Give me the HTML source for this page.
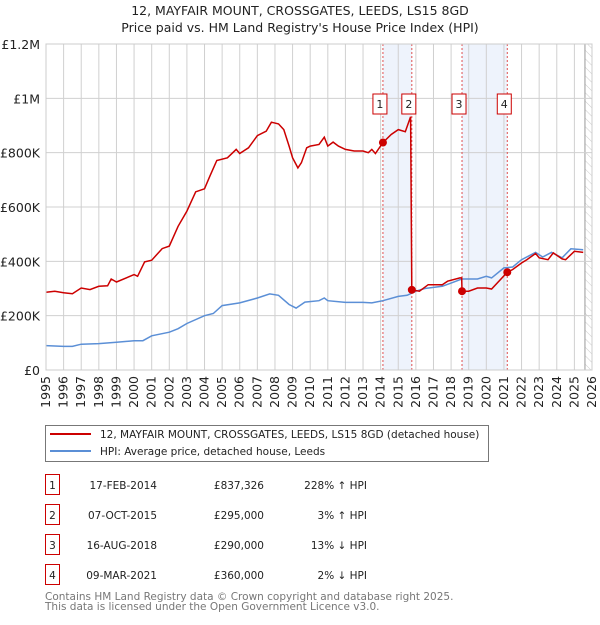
<!DOCTYPE html>
<html><head><meta charset="utf-8"><style>
body{margin:0;background:#fff;font-family:"Liberation Sans","DejaVu Sans",sans-serif;}
svg text{font-family:"DejaVu Sans","Liberation Sans",sans-serif;}
</style></head><body>
<svg id="c" width="600" height="620" xmlns="http://www.w3.org/2000/svg"></svg>
<script>
const years=[1995,1996,1997,1998,1999,2000,2001,2002,2003,2004,2005,2006,2007,2008,2009,2010,2011,2012,2013,2014,2015,2016,2017,2018,2019,2020,2021,2022,2023,2024,2025,2026];
const yTicks=[0,200000,400000,600000,800000,1000000,1200000];
const yTickLabels=["£0","£200K","£400K","£600K","£800K","£1M","£1.2M"];
const saleDates=[2014.13,2015.77,2018.62,2021.19];
const salePrices=[837326,295000,290000,360000];
const propT=[1995,1995.5,1996,1996.5,1997,1997.5,1998,1998.5,1998.7,1999,2000,2000.2,2000.6,2001,2001.6,2002,2002.5,2003,2003.5,2004,2004.3,2004.7,2005.3,2005.8,2006,2006.5,2007,2007.5,2007.8,2008.2,2008.5,2008.8,2009,2009.3,2009.5,2009.8,2010,2010.5,2010.8,2011,2011.3,2011.6,2012,2012.5,2013,2013.3,2013.5,2013.7,2014.13,2014.6,2015,2015.4,2015.7,2015.77,2016.2,2016.7,2017.5,2017.8,2018.5,2018.6,2018.62,2019,2019.5,2020,2020.3,2021.19,2021.5,2022,2022.3,2022.8,2023,2023.5,2023.8,2024.3,2024.5,2025,2025.5];
const propV=[286,290,284,281,302,296,308,310,335,324,351,345,398,404,447,456,529,585,656,667,713,771,781,812,797,818,863,879,912,906,885,824,781,744,763,818,824,830,857,824,839,824,812,806,806,800,812,797,837,867,885,877,932,295,290,314,314,327,339,339,290,290,302,302,298,360,370,394,406,429,413,406,431,409,406,437,433];
const hpiT=[1995,1996,1996.5,1997,1998,1999,2000,2000.5,2001,2002,2002.5,2003,2004,2004.5,2005,2006,2007,2007.7,2008.2,2008.8,2009.2,2009.7,2010.5,2010.8,2011,2012,2013,2013.5,2014.13,2015,2015.5,2016,2016.5,2017.5,2018,2018.6,2019.5,2020,2020.3,2021,2021.5,2022,2022.8,2023.2,2023.7,2024.3,2024.8,2025.5];
const hpiV=[90,87,87,95,97,102,108,108,126,139,152,171,200,208,237,247,265,280,275,241,228,250,255,265,255,249,249,247,255,271,275,290,300,308,320,335,335,345,339,376,379,406,433,416,433,413,446,443];
const NS="http://www.w3.org/2000/svg",svg=document.getElementById('c');
const L=46,R=592,T=44,B=370;
const X=t=>L+(t-1995)*(R-L)/31, Y=v=>B-v*(B-T)/1200000;
function el(tag,a,txt){const e=document.createElementNS(NS,tag);for(const k in a)e.setAttribute(k,a[k]);if(txt!=null)e.textContent=txt;svg.appendChild(e);return e;}
let e;
e=el('text',{x:300,y:15,'text-anchor':'middle','font-size':12.5,fill:'#222'},'12, MAYFAIR MOUNT, CROSSGATES, LEEDS, LS15 8GD');


e=el('text',{x:300,y:32,'text-anchor':'middle','font-size':12.5,fill:'#222'},"Price paid vs. HM Land Registry's House Price Index (HPI)");


[[0,1],[2,3]].forEach((p,i)=>{e=el('rect',{x:X(saleDates[p[0]]),y:T,width:X(saleDates[p[1]])-X(saleDates[p[0]]),height:B-T,fill:'#eef3fc'});

});
const d=el('defs',{});d.innerHTML='<pattern id="h" width="6" height="6" patternUnits="userSpaceOnUse" patternTransform="rotate(-45)"><line x1="0" y1="0" x2="0" y2="6" stroke="#ccc" stroke-width="1"/></pattern>';
e=el('rect',{x:X(2025.6),y:T,width:R-X(2025.6),height:B-T,fill:'url(#h)'});


e=el('line',{x1:X(2025.6),x2:X(2025.6),y1:T,y2:B,stroke:'#999'});


years.forEach(y=>{e=el('line',{x1:X(y),x2:X(y),y1:T,y2:B,stroke:'#d0d0d0','stroke-width':1});


e=el('text',{transform:`translate(${X(y)+4},${B+6}) rotate(-90)`,'text-anchor':'end','font-size':12.5,fill:'#222'},y);

});
yTicks.forEach((v,i)=>{e=el('line',{x1:L,x2:R,y1:Y(v),y2:Y(v),stroke:'#d0d0d0'});


e=el('text',{x:40,y:Y(v)+5,'text-anchor':'end','font-size':12.5,fill:'#222'},yTickLabels[i]);

});
saleDates.forEach(t=>{e=el('line',{x1:X(t),x2:X(t),y1:T,y2:B,stroke:'#e05050','stroke-dasharray':'2,2','stroke-width':1});

});
const pts=(ts,vs)=>ts.map((t,i)=>X(t).toFixed(1)+','+Y(vs[i]*1000).toFixed(1)).join(' ');
e=el('polyline',{points:pts(hpiT,hpiV),fill:'none',stroke:'#5b8fd6','stroke-width':1.5});


e=el('polyline',{points:pts(propT,propV),fill:'none',stroke:'#cc0000','stroke-width':1.5});


saleDates.forEach((t,i)=>{e=el('circle',{cx:X(t),cy:Y(salePrices[i]),r:4,fill:'#cc0000'});


const cx=X(t)-3;
e=el('rect',{x:cx-7,y:94,width:14,height:20,fill:'#fff',stroke:'#cc0000'});


e=el('text',{x:cx,y:108,'text-anchor':'middle','font-size':11,fill:'#222'},i+1);

});
e=el('rect',{x:L,y:T,width:R-L,height:B-T,fill:'none',stroke:'#ccc'});


e=el('rect',{x:45.5,y:425.5,width:443,height:36,fill:'#fff',stroke:'#777'});


e=el('line',{x1:50,x2:91,y1:434,y2:434,stroke:'#cc0000','stroke-width':2});


e=el('text',{x:100,y:438,'font-size':10.5,fill:'#222'},'12, MAYFAIR MOUNT, CROSSGATES, LEEDS, LS15 8GD (detached house)');


e=el('line',{x1:50,x2:91,y1:451,y2:451,stroke:'#5b8fd6','stroke-width':2});


e=el('text',{x:100,y:455,'font-size':10.5,fill:'#222'},'HPI: Average price, detached house, Leeds');


const rows=[["17-FEB-2014","£837,326","228% ↑ HPI"],["07-OCT-2015","£295,000","3% ↑ HPI"],["16-AUG-2018","£290,000","13% ↓ HPI"],["09-MAR-2021","£360,000","2% ↓ HPI"]];
rows.forEach((r,i)=>{const y=483+i*30;
e=el('rect',{x:45.5,y:y-8.5,width:14,height:20,fill:'#fff',stroke:'#cc0000'});


e=el('text',{x:52.5,y:y+6,'text-anchor':'middle','font-size':10.5,fill:'#222'},i+1);


e=el('text',{x:157,y:y+6,'text-anchor':'end','font-size':10.5,fill:'#222'},r[0]);


e=el('text',{x:264,y:y+6,'text-anchor':'end','font-size':10.5,fill:'#222'},r[1]);


e=el('text',{x:367,y:y+6,'text-anchor':'end','font-size':10.5,fill:'#222'},r[2]);

});
e=el('text',{x:45,y:600,'font-size':10.5,fill:'#777'},'Contains HM Land Registry data © Crown copyright and database right 2025.');


e=el('text',{x:45,y:610,'font-size':10.5,fill:'#777'},'This data is licensed under the Open Government Licence v3.0.');


</script>
</body></html>
